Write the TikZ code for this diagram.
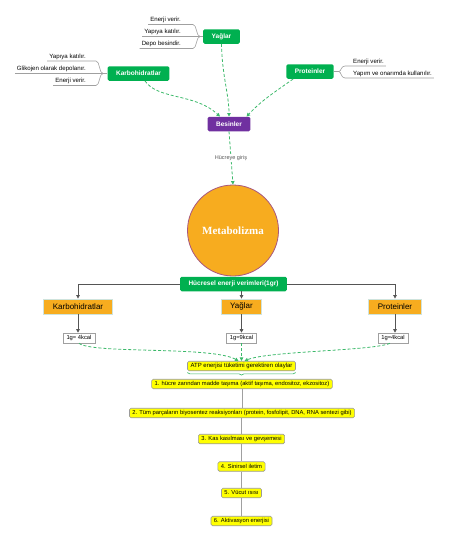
\documentclass[tikz,border=0pt]{standalone}
\usepackage{fontspec}
\setmainfont{Liberation Sans}
\newfontfamily\metafont{Liberation Serif}
\usetikzlibrary{arrows.meta,decorations.pathreplacing,calc}
\newcommand\fsz[1]{\fontsize{#1}{#1}\selectfont}
\definecolor{mmgreen}{HTML}{00B050}
\definecolor{dgreen}{HTML}{3CB96A}
\definecolor{mpurple}{HTML}{7030A0}
\definecolor{morange}{HTML}{F7AC1F}
\definecolor{oborder}{HTML}{CFE3DC}
\definecolor{cborder}{HTML}{A8577E}
\definecolor{myellow}{HTML}{FFFF00}
\definecolor{ygray}{HTML}{9A9A9A}
\definecolor{lgray}{HTML}{A0A0A0}
\definecolor{agray}{HTML}{555555}
\tikzset{
  gbox/.style={fill=mmgreen, rounded corners=1.5pt, text=white, font=\fsz{6.5}\bfseries, inner xsep=8.5pt, inner ysep=0pt, minimum height=14.5pt},
  pbox/.style={gbox, fill=mpurple},
  obox/.style={fill=morange, draw=oborder, line width=0.8pt, font=\fsz{8}, inner xsep=9pt, inner ysep=0pt, minimum height=15pt},
  kbox/.style={fill=white, draw=lgray, line width=0.6pt, font=\fsz{5.8}, inner xsep=3.5pt, inner ysep=0pt, minimum height=10pt},
  ybox/.style={fill=myellow, draw=ygray, line width=0.6pt, rounded corners=1.5pt, font=\fsz{5.8}, inner xsep=3pt, inner ysep=0pt, minimum height=9.5pt},
  lab/.style={font=\fsz{6.1}, inner xsep=2pt, inner ysep=1.5pt},
  branch/.style={draw=lgray, line width=0.6pt},
  dline/.style={draw=dgreen, dash pattern=on 3pt off 2pt, line width=0.8pt, -{Triangle[length=3.5pt,width=3.5pt]}},
  garrow/.style={draw=agray, line width=0.8pt, -{Triangle[length=3.5pt,width=3.5pt]}},
  vline/.style={draw=lgray, line width=0.6pt}
}
\begin{document}
\begin{tikzpicture}[x=1pt,y=-1pt]
\useasboundingbox (0,0) rectangle (450,541);
% top nodes
\node[gbox] (yag) at (221.5,36.5) {Yağlar};
\node[gbox] (karb) at (138.5,73.5) {Karbohidratlar};
\node[gbox] (prot) at (310,71.5) {Proteinler};
\node[pbox] (bes) at (229,124) {Besinler};
% Yağlar branches
\node[lab,anchor=south east] (ya1) at (183,24.5) {Enerji verir.};
\node[lab,anchor=south east] (ya2) at (183,36.5) {Yapıya katılır.};
\node[lab,anchor=south east] (ya3) at (183,48.5) {Depo besindir.};
\coordinate (ya1e) at (193,24.5);
\coordinate (ya3e) at (193,48.5);
\coordinate (yJ) at (200,36.5);
\draw[branch] (ya1.south west) -- (ya1e) .. controls (197,24.5) and (196,36.5) .. (yJ);
\draw[branch] (ya2.south west) -- (yag.west);
\draw[branch] (ya3.south west) -- (ya3e) .. controls (197,48.5) and (196,36.5) .. (yJ);
% Karbohidratlar branches
\node[lab,anchor=south east] (k1) at (88,61) {Yapıya katılır.};
\node[lab,anchor=south east] (k2) at (88,73.5) {Glikojen olarak depolanır.};
\node[lab,anchor=south east] (k3) at (88,85.5) {Enerji verir.};
\coordinate (k1e) at (96,61);
\coordinate (k3e) at (96,85.5);
\coordinate (kJ) at (103,73.5);
\draw[branch] (k1.south west) -- (k1e) .. controls (100,61) and (99,73.5) .. (kJ);
\draw[branch] (k2.south west) -- (karb.west);
\draw[branch] (k3.south west) -- (k3e) .. controls (100,85.5) and (99,73.5) .. (kJ);
% Proteinler branches
\node[lab,anchor=south west] (p1) at (351,66) {Enerji verir.};
\node[lab,anchor=south west] (p2) at (351,78) {Yapım ve onarımda kullanılır.};
\coordinate (p1e) at (345,66);
\coordinate (p2e) at (345,78);
\coordinate (pJ) at (339,71.5);
\draw[branch] (prot.east) -- (pJ) .. controls (341,71.5) and (341,66) .. (p1e) -- (p1.south east);
\draw[branch] (pJ) .. controls (341,71.5) and (341,78) .. (p2e) -- (p2.south east);
% to Besinler
\draw[dline] ([xshift=6.5pt]karb.south) .. controls (158,100) and (195,93) .. ([xshift=-9pt]bes.north);
\draw[dline] (yag.south) .. controls (222,75) and (229,95) .. (bes.north);
\draw[dline] ([xshift=7pt]prot.south west) .. controls (275,92) and (262,100) .. ([xshift=-4pt]bes.north east);
% Metabolizma
\node[circle, minimum size=91pt, inner sep=0pt, fill=morange, draw=cborder, line width=0.8pt, text=white, font=\metafont\bfseries\fsz{11}] (meta) at (233,230.5) {Metabolizma};
\draw[dline] (bes.south) -- node[fill=white, inner sep=1pt, text=agray, font=\fsz{5.5}] (giris) {Hücreye giriş} (meta.north);
% energy yields
\node[gbox] (hucre) at (233.5,284) {Hücresel enerji verimleri(1gr)};
\node[obox] (karbO) at (78,306.5) {Karbohidratlar};
\node[obox] (yagO) at (241.5,306.5) {Yağlar};
\node[obox] (protO) at (395,306.5) {Proteinler};
\draw[garrow] (hucre.west) -| (karbO.north);
\draw[garrow] (hucre.east) -| (protO.north);
\draw[garrow] (hucre.south -| yagO.north) -- (yagO.north);
\node[kbox] (karbK) at (79,338) {1g= 4kcal};
\node[kbox] (yagK) at (241.5,338) {1g=9kcal};
\node[kbox] (protK) at (393,338) {1g=4kcal};
\draw[garrow] (karbO.south) -- (karbO.south |- karbK.north);
\draw[garrow] (yagO.south) -- (yagK.north);
\draw[garrow] (protO.south) -- (protO.south |- protK.north);
% ATP
\node[ybox, font=\fsz{6}] (atp) at (241.5,366) {ATP enerjisi tüketimi gerektiren olaylar};
\draw[dline] (karbK.south) .. controls (92,354) and (212,346) .. ([xshift=-3pt]atp.north);
\draw[dline] (yagK.south) -- (atp.north);
\draw[dline] ([xshift=-3pt]protK.south) .. controls (372,351) and (268,351) .. ([xshift=3pt]atp.north);
\draw[dgreen, line width=0.6pt, decorate, decoration={brace, mirror, amplitude=2.5pt}] ([yshift=-1.5pt]atp.south west) -- ([yshift=-1.5pt]atp.south east);
% items
\node[ybox] (i1) at (242,384) {1. hücre zarından madde taşıma (aktif taşıma, endositoz, ekzositoz)};
\node[ybox] (i2) at (242,413) {2. Tüm parçaların biyosentez reaksiyonları (protein, fosfolipit, DNA, RNA sentezi gibi)};
\node[ybox] (i3) at (241.5,439) {3. Kas kasılması ve gevşemesi};
\node[ybox] (i4) at (241.5,466.5) {4. Sinirsel iletim};
\node[ybox] (i5) at (241.5,493) {5. Vücut ısısı};
\node[ybox] (i6) at (241.5,521) {6. Aktivasyon enerjisi};
\draw[vline] (i1.south) -- (i1.south |- i2.north);
\draw[vline] (i2.south -| i3.north) -- (i3.north);
\draw[vline] (i3.south) -- (i4.north);
\draw[vline] (i4.south) -- (i5.north);
\draw[vline] (i5.south) -- (i6.north);
\end{tikzpicture}
\end{document}
